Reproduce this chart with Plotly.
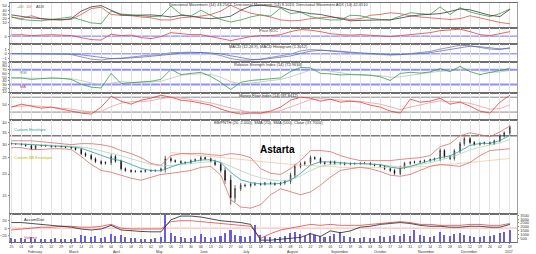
import math
import pandas as pd
import plotly.graph_objects as go

# ---------------- data ----------------
week_dates = pd.date_range("2016-01-25", periods=51, freq="7D")
bar_dates = sorted(list(week_dates) + list(week_dates[:-1] + pd.Timedelta(days=3)))

close = [30.2, 30.1, 29.8, 29.4, 28.2, 29.3, 29.5, 29.3, 29.0, 29.2,
         29.0, 28.7, 28.5, 27.9, 26.4, 25.7, 24.6, 23.7, 23.1, 23.4,
         25.4, 23.8, 21.5, 21.0, 20.7, 20.8, 20.7, 21.0, 20.9, 21.0,
         21.4, 24.6, 24.0, 23.7, 23.4, 23.3, 24.0, 24.3, 25.0, 24.6,
         23.8, 22.8, 21.0, 18.4, 14.5, 16.4, 17.2, 17.1, 17.4, 17.5,
         17.4, 17.7, 17.6, 17.4, 17.7, 18.1, 19.7, 22.2, 22.9, 23.4,
         25.0, 24.7, 23.4, 23.1, 23.6, 23.1, 23.2, 22.8, 23.1, 23.0,
         23.1, 23.2, 22.8, 22.5, 22.2, 21.5, 21.0, 20.2, 21.9, 23.1,
         23.4, 23.6, 23.7, 24.0, 24.3, 24.6, 27.5, 25.3, 24.7, 27.4,
         30.2, 32.3, 30.7, 29.9, 30.3, 30.6, 30.2, 31.4, 33.6, 35.0,
         37.7]
wick = [.3, .3, .3, .4, .5, .4, .3, .3, .3, .3,
        .3, .3, .3, .4, .5, .5, .5, .5, .4, .4,
        .8, .5, .5, .4, .3, .3, .3, .3, .3, .3,
        .4, 1.0, .6, .4, .4, .4, .4, .4, .5, .4,
        .4, .5, .6, .9, 1.3, .8, .5, .4, .4, .4,
        .3, .3, .3, .3, .3, .4, .6, .8, .6, .5,
        .7, .5, .5, .4, .4, .4, .4, .3, .3, .3,
        .3, .3, .3, .3, .4, .4, .4, .5, .5, .5,
        .4, .4, .4, .4, .4, .4, .8, .6, .5, .7,
        .8, .9, .7, .6, .5, .5, .5, .5, .7, .7,
        1.0]
volume = [450, 380, 520, 300, 600, 420, 350, 400, 380, 450,
          300, 350, 420, 500, 900, 700, 650, 800, 550, 600,
          1000, 700, 900, 600, 500, 450, 400, 380, 420, 500,
          600, 3600, 1200, 700, 600, 500, 550, 700, 1000, 650,
          500, 600, 800, 1100, 1500, 900, 700, 600, 800, 2200,
          900, 700, 600, 500, 650, 800, 1100, 1300, 1000, 800,
          1200, 900, 700, 600, 800, 1000, 1300, 700, 600, 500,
          550, 600, 500, 450, 700, 600, 800, 900, 700, 1000,
          800, 1600, 900, 700, 600, 800, 1300, 900, 700, 1000,
          1100, 900, 700, 600, 650, 700, 800, 900, 1100, 1300,
          1500]

bb_upper = [31.4, 31.4, 31.4, 31.0, 30.6, 30.2, 29.8, 30.2, 30.2, 29.8,
            29.0, 27.5, 26.4, 25.0, 23.1, 22.5, 25.7, 26.4, 26.4, 26.4,
            26.0, 25.7, 26.4, 26.0, 25.0, 21.5, 20.2, 19.9, 21.5, 24.0,
            27.5, 27.5, 27.1, 25.7, 24.7, 24.0, 24.0, 24.0, 24.0, 24.4,
            24.7, 25.0, 25.7, 29.0, 30.2, 33.6, 35.0, 34.1, 33.2, 35.4,
            38.4]
bb_lower = [28.6, 28.6, 27.9, 27.9, 28.2, 28.2, 27.9, 25.4, 22.8, 21.0,
            20.5, 19.7, 18.9, 18.4, 19.2, 19.9, 20.2, 20.5, 21.0, 21.9,
            22.2, 19.7, 14.1, 12.8, 12.6, 13.2, 15.1, 16.4, 15.7, 15.1,
            15.7, 17.2, 19.2, 21.0, 21.5, 21.9, 21.5, 20.7, 19.7, 19.4,
            19.9, 21.0, 22.2, 22.8, 22.5, 22.2, 23.4, 25.7, 27.5, 27.9,
            28.2]
ma_short = [30.2, 30.1, 29.8, 29.5, 29.3, 29.1, 28.9, 28.4, 27.2, 25.8,
            24.6, 24.0, 22.8, 21.6, 21.0, 20.9, 22.0, 23.0, 23.6, 24.2,
            24.3, 23.4, 20.5, 18.5, 17.8, 17.5, 17.5, 17.6, 18.4, 20.2,
            22.6, 23.6, 23.6, 23.3, 23.1, 23.1, 23.0, 22.7, 22.0, 21.5,
            22.2, 23.1, 23.8, 25.0, 25.6, 27.3, 29.5, 30.3, 30.3, 31.5,
            33.8]
ma_mid = [30.3, 30.2, 30.0, 29.8, 29.6, 29.4, 29.2, 28.9, 28.3, 27.4,
          26.5, 25.6, 24.6, 23.6, 22.8, 22.3, 22.4, 22.7, 23.1, 23.5,
          23.7, 23.5, 22.2, 20.8, 19.8, 19.0, 18.5, 18.2, 18.5, 19.5,
          21.0, 22.2, 22.8, 23.0, 23.0, 23.0, 22.9, 22.7, 22.3, 22.0,
          22.2, 22.7, 23.3, 24.2, 25.0, 26.3, 27.8, 28.8, 29.5, 30.5,
          32.0]
ma_long = [None] * 16 + [26.8, 26.4, 26.0, 25.7, 25.4, 25.0, 24.7, 24.4, 24.0, 23.7,
                         23.4, 23.1, 22.8, 22.5, 22.5, 22.2, 22.2, 21.9, 21.9, 21.9,
                         21.9, 21.9, 21.9, 21.9, 21.9, 22.2, 22.2, 22.5, 22.8, 23.1,
                         23.4, 23.7, 24.0, 24.4, 24.7]
resistance_level = 33.6

dmi_plus = [24, 18, 16, 15, 18, 21, 24, 17, 10, 8, 38, 31, 29, 28, 25, 26, 50, 30, 26, 40,
            28, 18, 12, 17, 24, 29, 26, 45, 32, 35, 25, 20, 17, 17, 28, 27, 21, 18, 17, 26,
            34, 32, 30, 48, 30, 46, 36, 30, 25, 32, 43]
dmi_minus = [24, 20, 27, 20, 17, 17, 18, 30, 44, 47, 30, 28, 27, 24, 22, 17, 17, 22, 24, 26,
             30, 38, 52, 41, 33, 29, 24, 17, 15, 16, 20, 22, 24, 22, 18, 20, 28, 30, 34, 32,
             27, 24, 22, 20, 18, 20, 27, 22, 16, 11, 8]
adx = [29, 25, 22, 20, 18, 17, 20, 38, 48, 51, 40, 29, 28, 28, 29, 27, 24, 28, 26, 22,
       20, 22, 26, 40, 50, 52, 50, 47, 40, 36, 32, 30, 25, 20, 15, 16, 17, 17, 17, 22,
       26, 29, 30, 32, 37, 43, 41, 35, 28, 25, 42]
roc = [5, 6, 2, 4, 6, 4, 2, -6, -14, -16, 8, 2, 4, -6, -10, -2, 14, 10, 6, 6,
       -2, -10, -18, -10, -2, 2, 2, 6, 18, 26, 24, 18, 10, 6, 4, 6, 4, 2, -2, 2,
       6, 8, 14, 22, 24, 28, 18, 6, 2, 10, 18]
macd = [0.05, 0.05, 0.0, 0.05, -0.05, -0.05, -0.15, -0.55, -1.1, -1.3,
        -1.0, -0.9, -0.75, -0.45, -0.25, -0.15, 0.25, 0.35, 0.35, 0.25,
        0.05, -0.35, -1.0, -1.3, -1.3, -1.1, -0.75, -0.55, -0.05, 0.6,
        0.9, 0.8, 0.6, 0.35, 0.15, 0.05, -0.05, -0.15, -0.25, -0.15,
        0.05, 0.25, 0.5, 1.0, 1.4, 1.8, 1.7, 1.4, 1.0, 0.9, 1.3]
macd_signal = [0.05, 0.05, 0.03, 0.02, 0.0, -0.02, -0.05, -0.2, -0.5, -0.85,
               -1.0, -1.0, -0.9, -0.7, -0.5, -0.35, -0.1, 0.15, 0.3, 0.3,
               0.2, 0.0, -0.4, -0.85, -1.15, -1.2, -1.0, -0.8, -0.45, 0.1,
               0.55, 0.75, 0.7, 0.55, 0.35, 0.2, 0.05, -0.05, -0.15, -0.15,
               -0.1, 0.05, 0.25, 0.6, 1.0, 1.4, 1.6, 1.5, 1.25, 1.05, 1.1]
rsi = [48, 48, 44, 47, 48, 47, 44, 31, 23, 21, 60, 33, 36, 37, 39, 44, 71, 57, 60, 63,
       52, 36, 17, 36, 41, 44, 45, 48, 65, 76, 75, 60, 59, 56, 57, 57, 55, 51, 41, 60,
       63, 61, 64, 73, 65, 79, 65, 57, 63, 68, 73]
rsi_ma = [48, 48, 47, 46, 46, 47, 46, 41, 34, 28, 34, 38, 36, 36, 37, 39, 47, 55, 58, 59,
          57, 50, 38, 32, 34, 38, 42, 44, 51, 61, 69, 70, 66, 61, 58, 57, 56, 54, 50, 51,
          55, 59, 62, 66, 67, 71, 71, 67, 63, 64, 68]
mfi = [40, 52, 44, 36, 40, 32, 24, 16, 12, 40, 84, 64, 52, 68, 76, 88, 80, 68, 64, 56,
       48, 32, 20, 12, 16, 16, 24, 40, 68, 80, 76, 64, 72, 60, 64, 60, 48, 40, 24, 16,
       72, 60, 64, 76, 52, 60, 44, 24, 16, 60, 88]
mfi_ma = [42, 45, 46, 43, 40, 37, 32, 26, 20, 22, 42, 56, 62, 62, 66, 74, 80, 77, 71, 64,
          57, 47, 36, 25, 17, 15, 18, 26, 40, 57, 70, 74, 72, 68, 66, 63, 58, 52, 41, 30,
          40, 50, 58, 65, 63, 61, 55, 45, 32, 34, 50]
ad_line = [15, 15, 12.5, 10, 7.5, 5, 2.5, -2.5, -5, -2.5, 7.5, -5, -7.5, -9, -10, -10, 22.5, 32.5, 32.5, 30,
           25, 20, 17.5, 15, 10, -32.5, -32.5, -30, -27.5, -25, -15, -22.5, -7.5, -12.5, -7.5, 2.5, 5, 10, 12.5, 15,
           12.5, 7.5, 5, 5, 2.5, 2.5, 5, 5, 2.5, 2.5, 10]
vol_line = [-5, -2.5, 0, 2.5, 2.5, 5, 5, 2.5, 2.5, 5, 10, 0, -2.5, -2.5, -2.5, -2.5, 17.5, 20, 20, 17.5,
            15, 12.5, 10, 7.5, 5, -27.5, -15, -5, 0, 5, 10, 7.5, 10, 7.5, 7.5, 7.5, 10, 12.5, 15, 17.5,
            15, 10, 10, 7.5, 7.5, 7.5, 10, 10, 7.5, 7.5, 12.5]

month_labels = ["February", "March", "April", "May", "June", "July", "August",
                "September", "October", "November", "December", "2017"]
month_starts = pd.date_range("2016-02-01", periods=12, freq="MS")

# ---------------- figure ----------------
open_ = [30.3] + close[:-1]
high = [max(o, c) + w for o, c, w in zip(open_, close, wick)]
low = [min(o, c) - w for o, c, w in zip(open_, close, wick)]

FONT = "Liberation Sans, Arial, sans-serif"
H = 242.0
PX_L, PX_R = 8, 517
panels = [(1, 26.5), (26.5, 42.5), (42.5, 60.5), (60.5, 91.5), (91.5, 118.5), (118.5, 214), (214, 242)]


def xa(k):
    return "x" if k == 1 else f"x{k}"


def ya(k):
    return "y" if k == 1 else f"y{k}"


fig = go.Figure()


def line(x, y, color, width, k, yk=None):
    fig.add_trace(go.Scatter(x=x, y=y, mode="lines", line=dict(color=color, width=width),
                             xaxis=xa(k), yaxis=ya(yk or k), hoverinfo="skip",
                             showlegend=False))


# panel 1: DMI
line(week_dates, dmi_minus, "#e0504a", 0.8, 1)
line(week_dates, dmi_plus, "#3c9b4e", 0.8, 1)
line(week_dates, adx, "#3a3a3a", 0.8, 1)
# panel 2: ROC
line(week_dates, roc, "#d9423c", 0.8, 2)
# panel 3: MACD
line(week_dates, macd, "#9a9aac", 1.0, 3)
line(week_dates, macd_signal, "#4a5fc1", 0.7, 3)
# panel 4: RSI
line(week_dates, rsi_ma, "#b0bcb0", 0.7, 4)
line(week_dates, rsi, "#3a9a45", 0.8, 4)
# panel 5: MFI
line(week_dates, mfi_ma, "#f29a9a", 0.8, 5)
line(week_dates, mfi, "#e03c3c", 0.8, 5)
# panel 6: price
line(week_dates, ma_long, "#f2c9a0", 0.8, 6)
line(week_dates, bb_upper, "#e06a6a", 0.8, 6)
line(week_dates, bb_lower, "#e06a6a", 0.8, 6)
line(week_dates, ma_mid, "#a9cdb2", 0.7, 6)
line(week_dates, ma_short, "#2a9d9d", 0.8, 6)
fig.add_trace(go.Candlestick(
    x=bar_dates, open=open_, high=high, low=low, close=close,
    increasing=dict(line=dict(color="black", width=0.6), fillcolor="white"),
    decreasing=dict(line=dict(color="black", width=0.6), fillcolor="black"),
    whiskerwidth=0, xaxis="x6", yaxis="y6", showlegend=False, hoverinfo="skip"))
# panel 7: volume + accumulation
fig.add_trace(go.Bar(x=bar_dates, y=volume, width=86400000 * 1.1,
                     marker=dict(color="#6a5fd8", line=dict(width=0)),
                     xaxis="x7", yaxis="y7", showlegend=False, hoverinfo="skip"))
line(week_dates, vol_line, "#e04848", 0.8, 7, 14)
line(week_dates, ad_line, "#222222", 0.8, 7, 14)

# ---------------- axes ----------------
yranges = {
    1: ([-2.8, 57.2], [10, 20, 30, 40, 50]),
    2: ([-32.4, 31.6], [0]),
    3: ([-1.71, 2.04], [-1, 0, 1]),
    4: ([8.1, 90.8], [10, 20, 30, 40, 50, 60, 70, 80, 90]),
    5: ([-10, 98], [50]),
    6: ([math.log10(11.6), math.log10(41.9)], [15, 20, 25, 30, 35, 40]),
    7: ([0, 3650], [500, 1000, 1500, 2000, 2500, 3000, 3500]),
}
x_range = ["2016-01-24", "2017-01-14"]
layout = dict(
    width=536, height=254, margin=dict(l=PX_L, r=536 - PX_R, t=0, b=254 - int(H)),
    paper_bgcolor="white", plot_bgcolor="white",
    font=dict(family=FONT, size=4, color="#333333"),
    showlegend=False, bargap=0, boxgap=0.75,
)
for k, (top, bot) in enumerate(panels, start=1):
    dom = [1 - bot / H, 1 - top / H]
    xd = dict(domain=[0, 1], anchor=ya(k), type="date", range=x_range,
              showgrid=True, gridcolor="#e4e4e4", gridwidth=1,
              dtick=7 * 86400000, tick0="2016-01-25",
              showline=True, mirror=True, linecolor="#6e6e6e", linewidth=1.3,
              zeroline=False, showticklabels=(k == 7), ticks="outside" if k == 7 else "",
              ticklen=1, tickcolor="#888888", tickformat="%d",
              tickfont=dict(size=3.5, color="#333333"),
              rangeslider=dict(visible=False))
    if k > 1:
        xd["matches"] = "x"
    layout["xaxis" if k == 1 else f"xaxis{k}"] = xd
    rng, tv = yranges[k]
    yd = dict(domain=dom, anchor=xa(k), range=rng, tickvals=tv,
              showgrid=False, zeroline=False, showline=True, mirror=True,
              linecolor="#a0a0a0", linewidth=0.8, ticks="outside", ticklen=1.5,
              tickcolor="#888888", tickfont=dict(size=4, color="#333333"))
    if k == 6:
        yd["type"] = "log"
    if k == 7:
        yd["side"] = "right"
    layout["yaxis" if k == 1 else f"yaxis{k}"] = yd
    # twin axis on the other side
    if k == 7:
        rd = dict(overlaying="y7", anchor="x7", side="left", range=[-37.5, 37.5],
                  tickvals=[-20, 0, 20], showgrid=False, zeroline=False, showline=False,
                  ticks="outside", ticklen=1.5, tickcolor="#888888",
                  tickfont=dict(size=4, color="#333333"))
    else:
        rd = dict(overlaying=ya(k), anchor=xa(k), side="right", range=rng, tickvals=tv,
                  showgrid=False, zeroline=False, showline=False, ticks="outside",
                  ticklen=1.5, tickcolor="#888888", tickfont=dict(size=4, color="#333333"))
        if k == 6:
            rd["type"] = "log"
    layout[f"yaxis{k + 7}"] = rd

fig.update_layout(**layout)


# reference lines
def hline(yref, yv, color, width):
    fig.add_shape(type="line", xref="paper", x0=0, x1=1, yref=yref, y0=yv, y1=yv,
                  line=dict(color=color, width=width), layer="below")


hline("y2", 0, "#7070ff", 1)
hline("y3", 0, "#7070ff", 1)
hline("y4", 70, "#8f8fff", 2)
hline("y4", 30, "#8f8fff", 2)
hline("y5", 80, "#8a8a8a", 1)
hline("y5", 20, "#8a8a8a", 1)
hline("y6", resistance_level, "#7a7a7a", 1.5)
hline("y14", 0, "#ffaaaa", 1)


# annotations
def px_x(px):
    return (px - PX_L) / (PX_R - PX_L)


def px_y(py):
    return 1 - py / H


def note(text, x, y, color="#333333", size=4, bold=False, xanchor="center"):
    fig.add_annotation(text=f"<b>{text}</b>" if bold else text, xref="paper", yref="paper",
                       x=px_x(x), y=px_y(y), xanchor=xanchor, yanchor="middle",
                       showarrow=False, font=dict(size=size, color=color, family=FONT))


note("Directional Movement (14) 43.2562, Directional Movement (14) 8.1024, Directional Movement ADX (14) 42.0510", 268, 2.5)
note("+DI", 13, 5, "#3c9b4e", xanchor="left")
note("-DI", 22, 5, "#e0504a", xanchor="left")
note("ADX", 32, 5, "#3a3a3a", xanchor="left")
note("Price ROC", 268, 29)
note("MACD (12,26,9), MACD Histogram (1.3012)", 268, 45)
note("Relative Strength Index (14) (72.9634)", 268, 63)
note("RSI", 16, 71, "#3a9a45", xanchor="left")
note("MA", 16, 85, "#e03c3c", xanchor="left")
note("Money Flow Index (14) (87.8412)", 268, 94.5)
note("BB/PNTH (20, 2.000), SMA (20), SMA (100), Close (37.7000)", 268, 121)
note("Custom Envelope", 10, 129, "#2a9d9d", xanchor="left")
note("Custom BB Envelope", 10, 157, "#c8b400", xanchor="left")
note("Astarta", 277, 149, "#000000", size=10, bold=True)
note("Accum/Dist", 20, 219, "#222222", xanchor="left")
note("Volume", 20, 237, "#e04848", xanchor="left")

for d, lab in zip(month_starts, month_labels):
    fig.add_annotation(text=lab, xref="x7", yref="paper", x=d + pd.Timedelta(days=3),
                       y=px_y(251.6), xanchor="left", yanchor="middle", showarrow=False,
                       font=dict(size=3.5, color="#333333", family=FONT))

fig.write_html("out.html")
